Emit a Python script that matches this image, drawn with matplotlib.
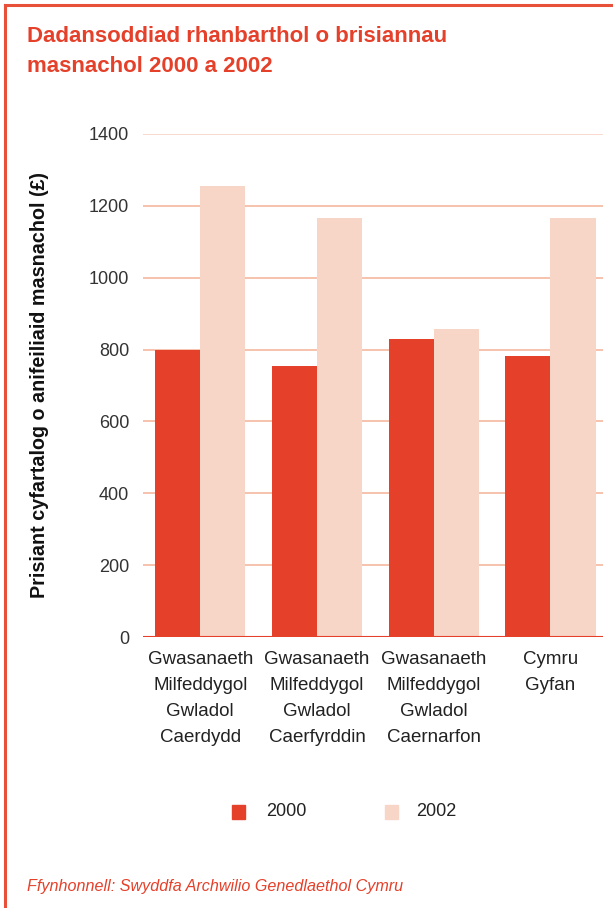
import matplotlib
matplotlib.use("Agg")
import matplotlib.pyplot as plt
import numpy as np
from matplotlib.patches import Rectangle
from matplotlib.lines import Line2D

categories = ["Gwasanaeth\nMilfeddygol\nGwladol\nCaerdydd",
              "Gwasanaeth\nMilfeddygol\nGwladol\nCaerfyrddin",
              "Gwasanaeth\nMilfeddygol\nGwladol\nCaernarfon",
              "Cymru\nGyfan"]
values_2000 = [800, 755, 830, 783]
values_2002 = [1255, 1165, 858, 1167]
series_names = ["2000", "2002"]
yticks = [0, 200, 400, 600, 800, 1000, 1200, 1400]

title = "Dadansoddiad rhanbarthol o brisiannau\nmasnachol 2000 a 2002"
ylabel = "Prisiant cyfartalog o anifeiliaid masnachol (£)"
source = "Ffynhonnell: Swyddfa Archwilio Genedlaethol Cymru"

RED = "#E4402A"
PINK = "#F7D5C7"
GRID = "#F5B7A0"
BORDER = "#E8503A"
FONT = "Liberation Sans"

W, H = 613, 908
fig = plt.figure(figsize=(W / 100, H / 100), dpi=100)

# frame lines (top and left)
fig.add_artist(Line2D([5 / W, 1], [1 - 5 / H, 1 - 5 / H], color=BORDER, lw=2.2, transform=fig.transFigure))
fig.add_artist(Line2D([5 / W, 5 / W], [0, 1 - 5 / H], color=BORDER, lw=2.2, transform=fig.transFigure))

fig.text(27 / W, 1 - 26 / H, title, color="#E4402A", fontsize=16, fontweight="bold",
         family=FONT, va="top", ha="left", linespacing=1.58)

ax_l, ax_r, ax_t, ax_b = 143, 603, 134, 637
ax = fig.add_axes([ax_l / W, 1 - ax_b / H, (ax_r - ax_l) / W, (ax_b - ax_t) / H])

x = np.arange(len(categories))
bw = 0.386
ax.bar(x - bw / 2, values_2000, width=bw, color=RED, zorder=3)
ax.bar(x + bw / 2, values_2002, width=bw, color=PINK, zorder=3)

ax.set_ylim(0, 1400)
ax.set_xlim(-0.49, 3.45)
ax.set_yticks(yticks)
ax.set_yticklabels([str(v) for v in yticks], fontsize=13, color="#333333", family=FONT)
for v in yticks[1:]:
    ax.axhline(v, color=GRID if v < 1400 else "#F8D3C5", lw=1.2, zorder=1)
ax.axhline(0, color=RED, lw=1.5, zorder=4)

ax.set_xticks(x)
ax.set_xticklabels(categories, fontsize=13.5, color="#222222", family=FONT, linespacing=1.7)
ax.tick_params(axis="x", length=0, pad=10)
ax.tick_params(axis="y", length=0, pad=10)
for s in ax.spines.values():
    s.set_visible(False)

fig.text(40 / W, 1 - 385 / H, ylabel, rotation=90, fontsize=14.2, fontweight="bold",
         family=FONT, color="#111111", ha="center", va="center")

# legend
ly = 1 - 812 / H
fig.add_artist(Rectangle((232 / W, ly - 7 / H), 13 / W, 14 / H, color=RED, transform=fig.transFigure))
fig.text(266 / W, ly, series_names[0], fontsize=13, family=FONT, color="#222222", va="center")
fig.add_artist(Rectangle((385 / W, ly - 7 / H), 13 / W, 14 / H, color=PINK, transform=fig.transFigure))
fig.text(416 / W, ly, series_names[1], fontsize=13, family=FONT, color="#222222", va="center")

fig.text(27 / W, 1 - 887 / H, source, fontsize=11.6, style="italic", family=FONT,
         color="#E4402A", va="center", ha="left")

fig.savefig("out.png", dpi=100)
